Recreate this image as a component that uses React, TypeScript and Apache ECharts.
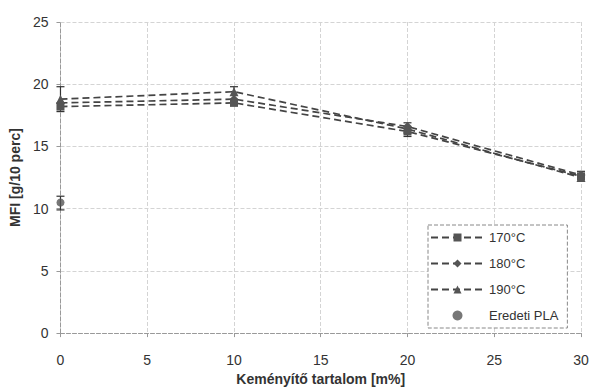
import React, { useEffect, useRef } from "react";
import * as echarts from "echarts";

const xValues = [0, 10, 20, 30];
const s170 = [18.2, 18.5, 16.2, 12.6];
const s180 = [18.5, 18.8, 16.6, 12.7];
const s190 = [18.8, 19.4, 16.4, 12.5];
const errLow = [17.8, 18.3, 15.8, 12.2];
const errHigh = [19.8, 19.8, 16.9, 13.0];
const plaX = [0];
const plaY = [10.5];
const plaLow = [9.9];
const plaHigh = [11.0];
const seriesNames = ["170°C", "180°C", "190°C", "Eredeti PLA"];

export default function App() {
  const ref = useRef<HTMLDivElement>(null);
  useEffect(() => {
    document.body.style.margin = "0";
    if (!ref.current) return;
    const chart = echarts.init(ref.current, null, { renderer: "svg" });
    const lineColor = "#444";
    const markColor = "#555";
    const pair = (ys: number[]) => xValues.map((x, i) => [x, ys[i]]);
    const errData = [
      ...xValues.map((x, i) => [x, errLow[i], errHigh[i]]),
      ...plaX.map((x, i) => [x, plaLow[i], plaHigh[i]]),
    ];
    const lineSeries = (name: string, data: number[], symbol: string, size: number) => ({
      name,
      type: "line",
      data: pair(data),
      symbol,
      symbolSize: size,
      itemStyle: { color: markColor },
      lineStyle: { color: lineColor, type: [7, 4], width: 1.7 },
      z: 3,
    });
    chart.setOption({
      animation: false,
      backgroundColor: "#fff",
      textStyle: { fontFamily: "Liberation Sans, Arial, sans-serif" },
      grid: { left: 60, right: 13, top: 22, bottom: 54 },
      xAxis: {
        type: "value",
        min: 0,
        max: 30,
        interval: 5,
        name: "Keményítő tartalom [m%]",
        nameLocation: "middle",
        nameGap: 38,
        nameTextStyle: { fontWeight: "bold", fontSize: 14, color: "#333" },
        axisLabel: { fontSize: 14, color: "#333", margin: 20 },
        axisLine: { lineStyle: { color: "#999", type: "dashed" } },
        axisTick: { inside: false, length: 4, lineStyle: { color: "#999" } },
        splitLine: { show: true, lineStyle: { color: "#d4d4d4", type: "dashed" } },
      },
      yAxis: {
        type: "value",
        min: 0,
        max: 25,
        interval: 5,
        name: "MFI [g/10 perc]",
        nameLocation: "middle",
        nameGap: 24,
        nameTextStyle: { fontWeight: "bold", fontSize: 14, color: "#333" },
        axisLabel: { fontSize: 14, color: "#333", margin: 12 },
        axisLine: { show: true, lineStyle: { color: "#999", type: "dashed" } },
        axisTick: { show: true, length: 4, lineStyle: { color: "#999" } },
        splitLine: { show: true, lineStyle: { color: "#d4d4d4", type: "dashed" } },
      },
      legend: {
        data: seriesNames,
        orient: "vertical",
        left: 428,
        top: 225,
        itemWidth: 53,
        itemHeight: 10,
        itemGap: 13,
        padding: [6, 9, 6, 2],
        borderColor: "#888",
        borderWidth: 1,
        borderType: "dashed",
        backgroundColor: "#fff",
        textStyle: { fontSize: 13, color: "#333" },
      },
      series: [
        lineSeries(seriesNames[0], s170, "rect", 8),
        lineSeries(seriesNames[1], s180, "diamond", 9),
        lineSeries(seriesNames[2], s190, "triangle", 9),
        {
          name: seriesNames[3],
          type: "scatter",
          data: plaX.map((x, i) => [x, plaY[i]]),
          symbol: "circle",
          symbolSize: 8,
          itemStyle: { color: markColor },
          z: 3,
        },
        {
          type: "custom",
          data: errData,
          z: 2,
          renderItem: (params: any, api: any) => {
            const x = api.value(0);
            const lo = api.coord([x, api.value(1)]);
            const hi = api.coord([x, api.value(2)]);
            const w = 4;
            const style = { stroke: "#333", lineWidth: 1.2 };
            return {
              type: "group",
              children: [
                { type: "line", shape: { x1: lo[0], y1: lo[1], x2: hi[0], y2: hi[1] }, style },
                { type: "line", shape: { x1: lo[0] - w, y1: lo[1], x2: lo[0] + w, y2: lo[1] }, style },
                { type: "line", shape: { x1: hi[0] - w, y1: hi[1], x2: hi[0] + w, y2: hi[1] }, style },
              ],
            };
          },
        },
      ],
    });
    return () => chart.dispose();
  }, []);
  return <div ref={ref} style={{ width: 594, height: 391 }} />;
}
